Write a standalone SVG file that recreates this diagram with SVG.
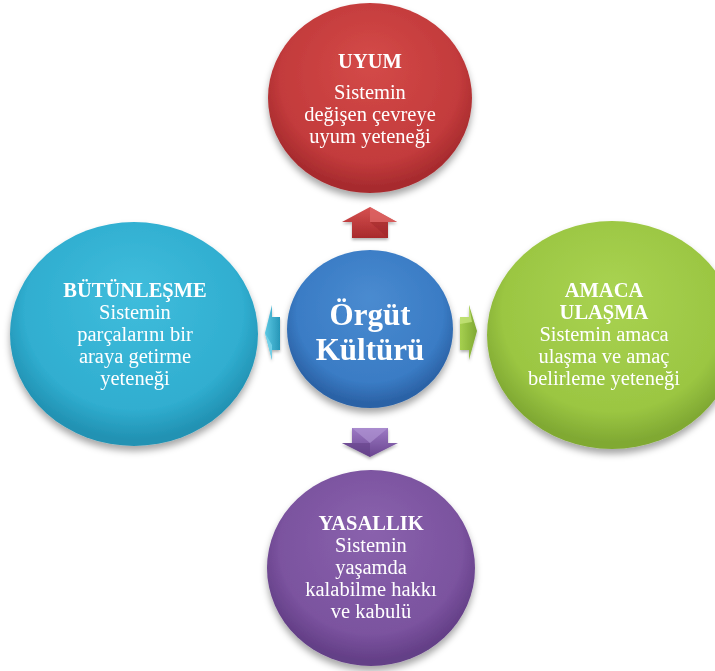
<svg xmlns="http://www.w3.org/2000/svg" width="715" height="671" viewBox="0 0 715 671">
  <defs>
    <filter id="soft" x="-20%" y="-20%" width="140%" height="145%">
      <feDropShadow dx="0" dy="5" stdDeviation="3.5" flood-color="#000" flood-opacity="0.35"/>
    </filter>
    <filter id="softSmall" x="-40%" y="-40%" width="180%" height="180%">
      <feDropShadow dx="0" dy="2" stdDeviation="1.5" flood-color="#000" flood-opacity="0.3"/>
    </filter>
    <radialGradient id="gRed" cx="50%" cy="42%" r="55%" fx="50%" fy="30%">
      <stop offset="0" stop-color="#d44a48"/>
      <stop offset="0.8" stop-color="#c33b3c"/>
      <stop offset="1" stop-color="#a72b2e"/>
    </radialGradient>
    <radialGradient id="gBlue" cx="50%" cy="42%" r="55%" fx="50%" fy="30%">
      <stop offset="0" stop-color="#4a8bd0"/>
      <stop offset="0.8" stop-color="#3a7cc5"/>
      <stop offset="1" stop-color="#2b62a6"/>
    </radialGradient>
    <radialGradient id="gCyan" cx="50%" cy="42%" r="55%" fx="50%" fy="30%">
      <stop offset="0" stop-color="#40bddc"/>
      <stop offset="0.8" stop-color="#30aed0"/>
      <stop offset="1" stop-color="#2292b3"/>
    </radialGradient>
    <radialGradient id="gGreen" cx="50%" cy="42%" r="55%" fx="50%" fy="30%">
      <stop offset="0" stop-color="#a9d352"/>
      <stop offset="0.8" stop-color="#9bc642"/>
      <stop offset="1" stop-color="#80a933"/>
    </radialGradient>
    <radialGradient id="gPurple" cx="50%" cy="42%" r="55%" fx="50%" fy="30%">
      <stop offset="0" stop-color="#8a62ad"/>
      <stop offset="0.8" stop-color="#7b539f"/>
      <stop offset="1" stop-color="#643f87"/>
    </radialGradient>
    <linearGradient id="aRed" x1="0" y1="0" x2="0" y2="1">
      <stop offset="0" stop-color="#d65050"/>
      <stop offset="1" stop-color="#a82a2c"/>
    </linearGradient>
    <linearGradient id="aPurple" x1="0" y1="0" x2="0" y2="1">
      <stop offset="0" stop-color="#9c7ac4"/>
      <stop offset="1" stop-color="#6a4590"/>
    </linearGradient>
    <linearGradient id="aCyan" x1="0" y1="0" x2="1" y2="0">
      <stop offset="0" stop-color="#5cc8e3"/>
      <stop offset="1" stop-color="#2797b8"/>
    </linearGradient>
    <linearGradient id="aGreen" x1="0" y1="0" x2="1" y2="0">
      <stop offset="0" stop-color="#a6d04f"/>
      <stop offset="1" stop-color="#7fa833"/>
    </linearGradient>
  </defs>
  <style>
    text { font-family: "Liberation Serif", "Times New Roman", serif; fill: #ffffff; text-anchor: middle; }
    .h { font-weight: bold; font-size: 20.5px; }
    .t { font-size: 20.5px; }
    .big { font-weight: bold; font-size: 31px; }
  </style>

  <rect width="715" height="671" fill="#ffffff"/>

  <!-- connectors: bevelled block arrows pointing outwards from the centre -->
  <g id="connectors" filter="url(#softSmall)">
    <g id="arrow-up">
      <path d="M370,207 L397,222 L388,222 L388,238 L352,238 L352,222 L342,222 Z" fill="url(#aRed)"/>
      <path d="M370,207 L397,222 L370,222 Z" fill="#e06a68" opacity="0.7"/>
      <path d="M370,222 L388,222 L388,238 Z" fill="#9e2628" opacity="0.5"/>
    </g>
    <g id="arrow-down">
      <path d="M352,428 L388,428 L388,443 L398,443 L370,457 L342,443 L352,443 Z" fill="url(#aPurple)"/>
      <path d="M352,428 L370,443 L388,428 Z" fill="#b397d6" opacity="0.6"/>
      <path d="M342,443 L370,457 L370,443 Z" fill="#5e3b82" opacity="0.5"/>
    </g>
    <g id="arrow-left">
      <path d="M265,333 L272,305 L272,317 L280,317 L280,350 L272,350 L272,360 Z" fill="url(#aCyan)"/>
      <path d="M265,333 L272,345 L272,360 Z" fill="#7ad6ec" opacity="0.8"/>
    </g>
    <g id="arrow-right">
      <path d="M477,331 L469,305 L469,317 L460,317 L460,350 L469,350 L469,360 Z" fill="url(#aGreen)"/>
      <path d="M460,317 L469,317 L469,305 L472,322 L460,324 Z" fill="#c6e57a" opacity="0.8"/>
    </g>
  </g>

  <!-- UYUM -->
  <g id="node-uyum">
    <ellipse cx="370" cy="98" rx="102" ry="95" fill="url(#gRed)" filter="url(#soft)"/>
    <text class="h" x="370" y="68">UYUM</text>
    <text class="t" x="370" y="99">Sistemin</text>
    <text class="t" x="370" y="121">değişen çevreye</text>
    <text class="t" x="370" y="143">uyum yeteneği</text>
  </g>

  <!-- BÜTÜNLEŞME -->
  <g id="node-butunlesme">
    <ellipse cx="134" cy="334" rx="124" ry="112" fill="url(#gCyan)" filter="url(#soft)"/>
    <text class="h" x="135" y="297">BÜTÜNLEŞME</text>
    <text class="t" x="135" y="319">Sistemin</text>
    <text class="t" x="135" y="341">parçalarını bir</text>
    <text class="t" x="135" y="363">araya getirme</text>
    <text class="t" x="135" y="385">yeteneği</text>
  </g>

  <!-- AMACA ULAŞMA -->
  <g id="node-amaca-ulasma">
    <ellipse cx="612" cy="335" rx="125" ry="114" fill="url(#gGreen)" filter="url(#soft)"/>
    <text class="h" x="604" y="297">AMACA</text>
    <text class="h" x="604" y="319">ULAŞMA</text>
    <text class="t" x="604" y="341">Sistemin amaca</text>
    <text class="t" x="604" y="363">ulaşma ve amaç</text>
    <text class="t" x="604" y="385">belirleme yeteneği</text>
  </g>

  <!-- YASALLIK -->
  <g id="node-yasallik">
    <ellipse cx="371" cy="568" rx="104" ry="98" fill="url(#gPurple)" filter="url(#soft)"/>
    <text class="h" x="371" y="530">YASALLIK</text>
    <text class="t" x="371" y="552">Sistemin</text>
    <text class="t" x="371" y="574">yaşamda</text>
    <text class="t" x="371" y="596">kalabilme hakkı</text>
    <text class="t" x="371" y="618">ve kabulü</text>
  </g>

  <!-- Örgüt Kültürü (centre) -->
  <g id="node-orgut-kulturu">
    <ellipse cx="370" cy="329" rx="83" ry="79" fill="url(#gBlue)" filter="url(#soft)"/>
    <text class="big" x="370" y="325">Örgüt</text>
    <text class="big" x="370" y="360">Kültürü</text>
  </g>
</svg>
